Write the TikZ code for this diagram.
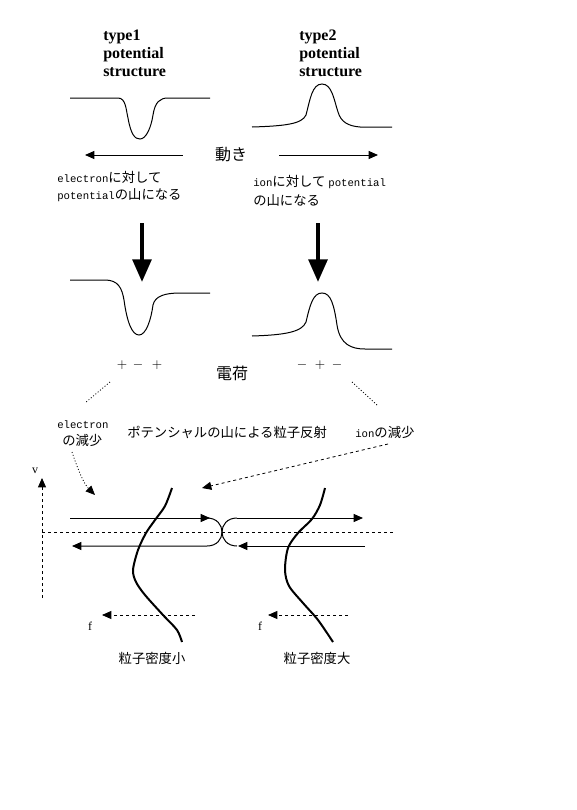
\documentclass[tikz,border=0pt]{standalone}
\usepackage{fontspec}
\setmainfont{Liberation Serif}
\setmonofont{Liberation Mono}
\newfontfamily\jpfont{Noto Sans CJK JP}
\usetikzlibrary{arrows.meta}
\newcommand\en[1]{{\ttfamily\fontsize{8}{10}\selectfont #1}}

\begin{document}
\begin{tikzpicture}[x=0.75pt, y=-0.75pt, >={Triangle[length=7pt,width=6pt]},
        curve/.style={line width=0.75pt},
        title/.style={font=\bfseries\fontsize{12}{13.5}\selectfont, align=left, anchor=north west, inner sep=0pt},
        jp/.style={font=\jpfont\fontsize{10}{13.5}\selectfont, inner sep=0pt},
        big/.style={font=\jpfont\fontsize{12}{14}\selectfont, inner sep=0pt},
        flow/.style={->, line width=0.75pt},
        guide/.style={dash pattern=on 2.25pt off 2.25pt, line width=0.6pt},
        dots/.style={dash pattern=on 0.75pt off 1.5pt, line width=0.6pt},
        down/.style={-{Triangle[length=17pt,width=14pt]}, line width=3pt},
        wave/.style={line width=1.5pt}]
        \useasboundingbox (0,0) rectangle (576,810);
        % titles
        \node[title] (t1) at (103,30) {type1\\potential\\structure};
        \node[title] (t2) at (299,30) {type2\\potential\\structure};
        % potential structures
        \draw[curve] (70,98) -- (118,98) .. controls (126,98) and (126,110) .. (128,118)
            .. controls (131,135) and (135,139) .. (140,139) .. controls (146,139) and (151,128) .. (153,115)
            .. controls (155,102) and (160,98) .. (168,98) -- (210,98);
        \draw[curve] (252,127) .. controls (285,126) and (302,124) .. (306,115)
            .. controls (310,100) and (312,84) .. (322,84) .. controls (332,84) and (334,100) .. (338,112)
            .. controls (341,122) and (348,126) .. (360,127) -- (392,127);
        % motion
        \node[big] (move) at (231,155) {動き};
        \coordinate (mL) at (85,155);
        \coordinate (mR) at (378,155);
        \draw[flow] ([xshift=-24pt]move.west) -- (mL);
        \draw[flow] ([xshift=24pt]move.east) -- (mR);
        \node[jp, anchor=west] (e1) at (57,177) {\en{electron}に対して};
        \node[jp, anchor=west] (e2) at (57,195) {\en{potential}の山になる};
        \node[jp, anchor=west] (i1) at (253,182) {\en{ion}に対して \en{potential}};
        \node[jp, anchor=west] (i2) at (253,200) {の山になる};
        \draw[down] (142,223) -- (142,282);
        \draw[down] (318,223) -- (318,282);
        % charged structures
        \draw[curve] (70,280) -- (105,280) .. controls (118,280) and (122,288) .. (124,300)
            .. controls (127,322) and (132,335) .. (139,335) .. controls (146,335) and (151,320) .. (153,305)
            .. controls (155,296) and (165,293) .. (180,293) -- (210,293);
        \draw[curve] (252,336) .. controls (285,335) and (302,332) .. (306,322)
            .. controls (310,305) and (313,293) .. (322,293) .. controls (331,293) and (334,305) .. (337,325)
            .. controls (340,345) and (352,349) .. (365,349) -- (392,349);
        \foreach \x/\s [count=\i] in {122/+,138/-,157/+} \node (qa\i) at (\x,365) {$\s$};
        \foreach \x/\s [count=\i] in {302/-,320/+,337/-} \node (qb\i) at (\x,365) {$\s$};
        \node[big] (chg) at (232,373) {電荷};
        \coordinate (dA) at (85,403);
        \coordinate (dB) at (377,405);
        \draw[dots] (110,382) -- (dA);
        \draw[dots] (352,382) -- (dB);
        % labels
        \node[jp, anchor=west] (ed1) at (57,425) {\en{electron}};
        \node[jp, anchor=west] (ed2) at (62,440) {の減少};
        \node[jp, anchor=west] (refl) at (127,432) {ポテンシャルの山による粒子反射};
        \node[jp, anchor=west] (iond) at (355,432) {\en{ion}の減少};
        \coordinate (hitA) at (95,495);
        \coordinate (hitB) at (202,488);
        \draw[dots, ->] (72,452) .. controls (78,470) and (84,484) .. (hitA);
        \draw[guide, ->] (388,444) -- (hitB);
        % phase space
        \draw[guide, ->] (42,598) -- (42,478);
        \node[font=\small] (v) at (35,471) {v};
        \draw[guide] (42,532) -- (393,532);
        \draw[flow] (70,518) -- (210,518);
        \draw[flow] (207,518) .. controls (227,518) and (227,546) .. (207,546) -- (72,546);
        \draw[flow] (237,518) -- (363,518);
        \draw[curve] (237,518) .. controls (217,518) and (217,546) .. (237,546);
        \draw[flow] (365,546) -- (238,546);
        \draw[wave] plot[smooth] coordinates {(172,488) (165,506) (155,520) (146,533) (138,550)
            (133,570) (136,582) (145,595) (163,615) (177,630) (182,642)};
        \draw[wave] plot[smooth] coordinates {(325,488) (320,505) (312,519) (298,533) (288,548)
            (285,570) (289,586) (303,603) (318,620) (333,642)};
        \draw[guide, ->] (195,615) -- (102,615);
        \draw[guide, ->] (348,615) -- (268,615);
        \node[font=\small] (f1) at (90,626) {f};
        \node[font=\small] (f2) at (260,626) {f};
        \node[jp] (lo) at (152,658) {粒子密度小};
        \node[jp] (hi) at (317,658) {粒子密度大};
    \end{tikzpicture}
\end{document}
